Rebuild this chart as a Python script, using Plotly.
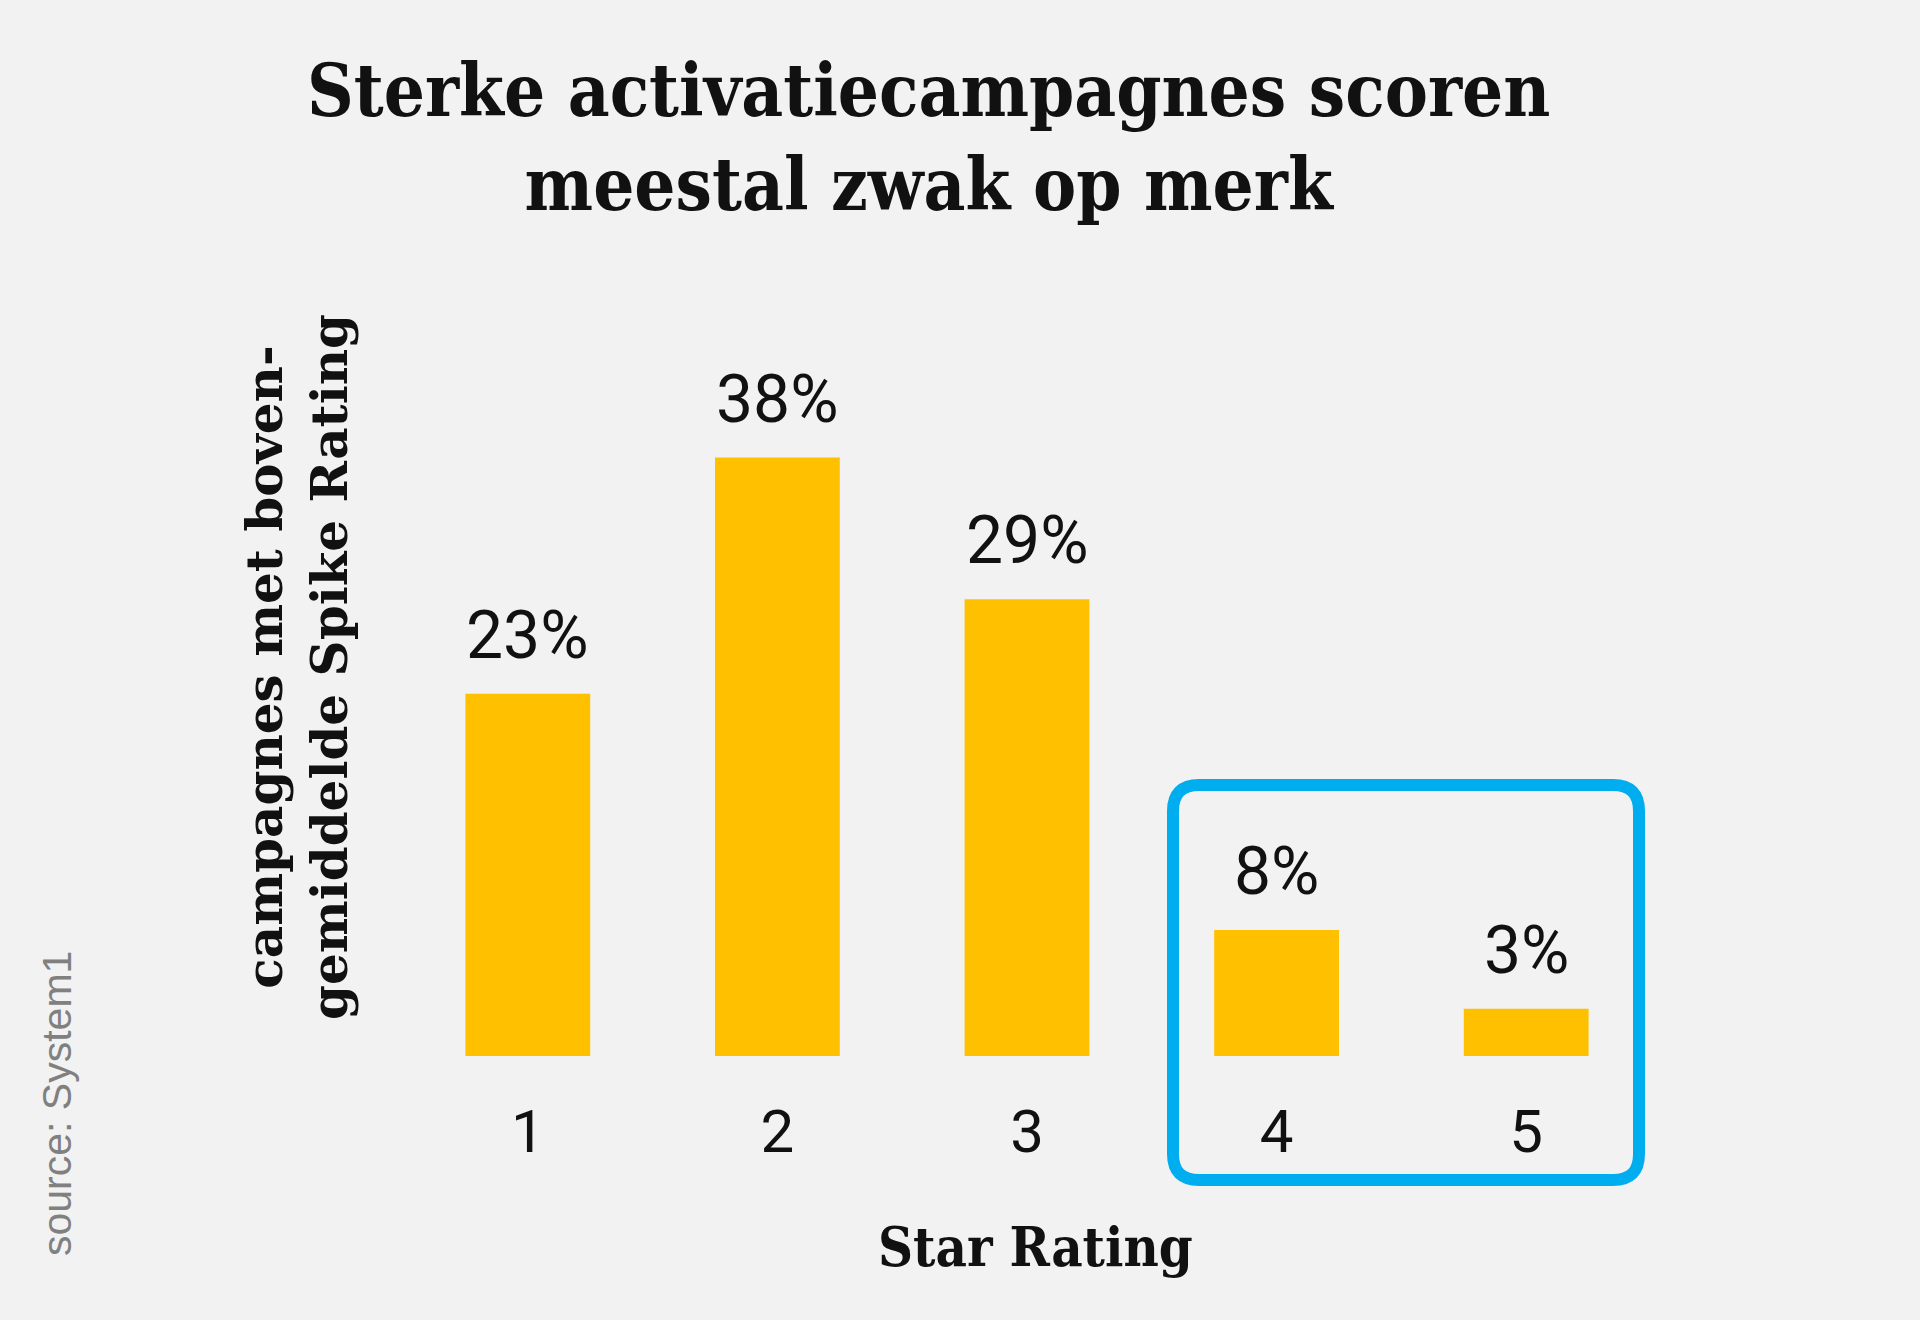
import plotly.graph_objects as go

# data
star_ratings = [1, 2, 3, 4, 5]
share_above_avg = [23, 38, 29, 8, 3]
bar_labels = ["23%", "38%", "29%", "8%", "3%"]

title_text = "Sterke activatiecampagnes scoren<br>meestal zwak op merk"
ytitle_text = "campagnes met boven-<br>gemiddelde Spike Rating"
xtitle_text = "Star Rating"
source_text = "source: System1"

BG = "#F2F2F2"
BAR = "#FFC000"
BLUE = "#00AEEF"
INK = "#111111"
SLAB = "DejaVu Serif Condensed"

W, H = 1920, 1320
ML, MR, MT, MB = 403, 269, 426, 264
PW, PH = W - ML - MR, H - MT - MB


def px2paper(px, py):
    # page pixels -> paper coords of the plot area
    return (px - ML) / PW, (H - MB - py) / PH


fig = go.Figure()
fig.add_trace(go.Bar(
    x=star_ratings, y=share_above_avg,
    marker=dict(color=BAR, line=dict(width=0)),
    width=0.5, hoverinfo="skip",
))

for cat, val, lab in zip(star_ratings, share_above_avg, bar_labels):
    fig.add_annotation(x=cat, y=val, text=lab, showarrow=False,
                       yanchor="bottom", yshift=18,
                       font=dict(family="Roboto", size=66, color=INK))

# rounded blue box around ratings 4 and 5
x0, y0 = px2paper(1173, 1180)
x1, y1 = px2paper(1639, 785)
rx, ry = 26 / PW, 26 / PH
path = (f"M {x0+rx},{y1} L {x1-rx},{y1} Q {x1},{y1} {x1},{y1-ry} "
        f"L {x1},{y0+ry} Q {x1},{y0} {x1-rx},{y0} "
        f"L {x0+rx},{y0} Q {x0},{y0} {x0},{y0+ry} "
        f"L {x0},{y1-ry} Q {x0},{y1} {x0+rx},{y1} Z")
fig.add_shape(type="path", path=path, xref="paper", yref="paper",
              line=dict(color=BLUE, width=12))

ax, ay = px2paper(928, 137)
fig.add_annotation(x=ax, y=ay, xref="paper", yref="paper", text=title_text,
                   showarrow=False, xanchor="center", yanchor="middle",
                   font=dict(family=SLAB, size=72, color=INK, weight="bold"))

ax, ay = px2paper(297, 667)
fig.add_annotation(x=ax, y=ay, xref="paper", yref="paper", text=ytitle_text,
                   textangle=-90, showarrow=False, xanchor="center", yanchor="middle",
                   font=dict(family="DejaVu Serif", size=50, color=INK, weight="bold"))

ax, ay = px2paper(1035, 1247)
fig.add_annotation(x=ax, y=ay, xref="paper", yref="paper", text=xtitle_text,
                   showarrow=False, xanchor="center", yanchor="middle",
                   font=dict(family=SLAB, size=54, color=INK, weight="bold"))

ax, ay = px2paper(57, 1104)
fig.add_annotation(x=ax, y=ay, xref="paper", yref="paper", text=source_text,
                   textangle=-90, showarrow=False, xanchor="center", yanchor="middle",
                   font=dict(family="Liberation Sans", size=41, color="#808080"))

fig.update_layout(
    width=W, height=H,
    margin=dict(l=ML, r=MR, t=MT, b=MB),
    paper_bgcolor=BG, plot_bgcolor=BG,
    showlegend=False,
)
fig.update_xaxes(range=[0.5, 5.5], tickvals=star_ratings,
                 ticktext=[str(s) for s in star_ratings],
                 showgrid=False, showline=False, zeroline=False,
                 ticks="", ticklabelstandoff=35,
                 tickfont=dict(family="Roboto", size=60, color=INK))
fig.update_yaxes(range=[0, 40], visible=False, showgrid=False, zeroline=False)

fig.write_html("out.html", config={"displayModeBar": False},
               post_script="document.body.style.margin='0';document.body.style.padding='0';")
